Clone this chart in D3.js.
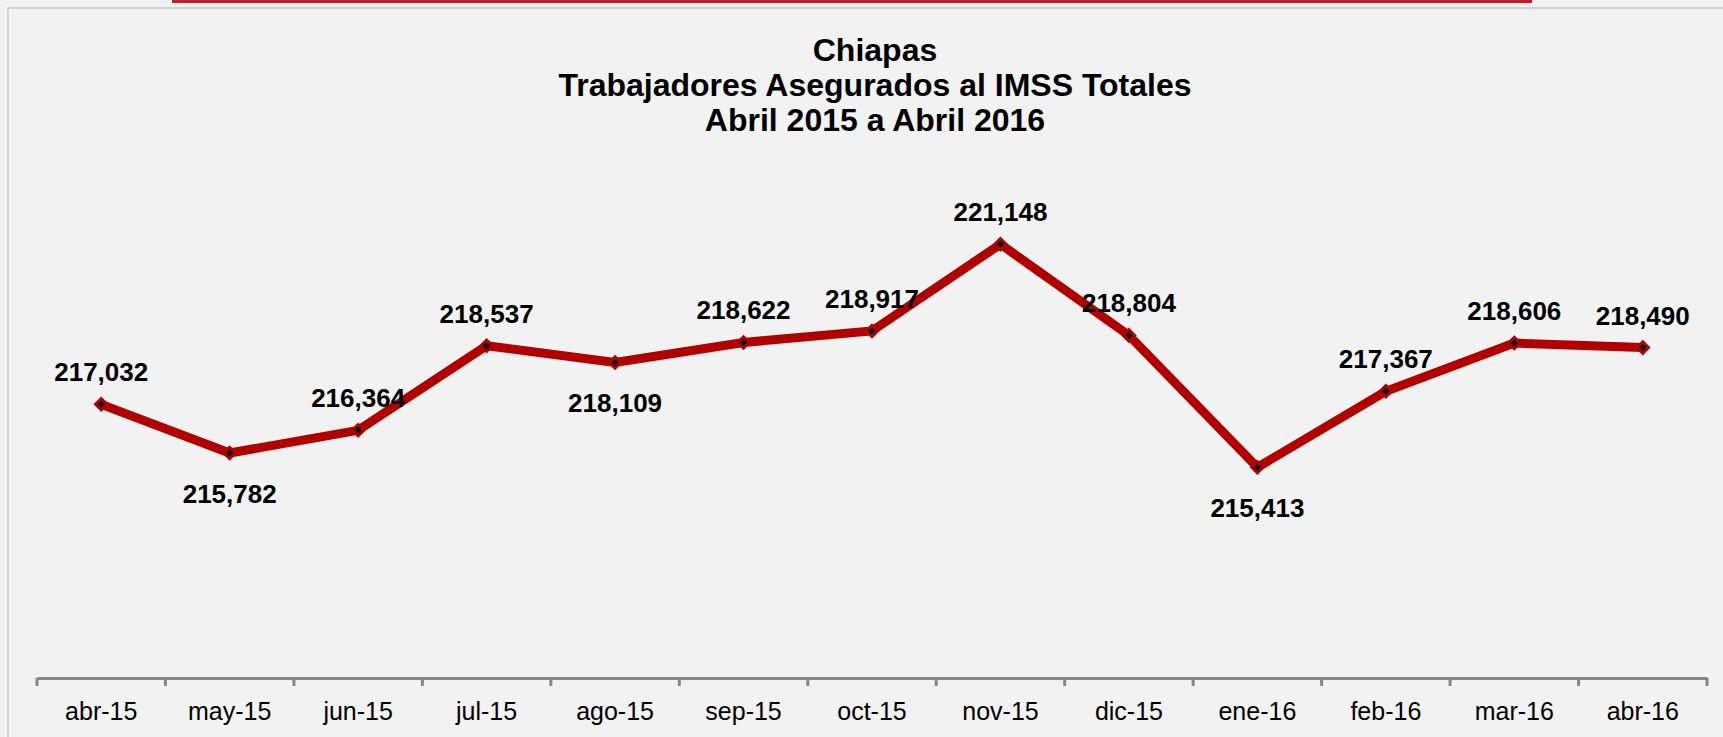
<!DOCTYPE html>
<html>
<head>
<meta charset="utf-8">
<script src="https://cdn.jsdelivr.net/npm/d3@7"></script>
<style>
  html, body { margin: 0; padding: 0; background: #f2f2f2; }
  svg { display: block; font-family: "Liberation Sans", Arial, sans-serif; }
</style>
</head>
<body>
<svg id="chart"></svg>
<script>
// Datos del gráfico
const meses = ["abr-15", "may-15", "jun-15", "jul-15", "ago-15", "sep-15", "oct-15",
               "nov-15", "dic-15", "ene-16", "feb-16", "mar-16", "abr-16"];
const trabajadores = [217032, 215782, 216364, 218537, 218109, 218622, 218917,
                      221148, 218804, 215413, 217367, 218606, 218490];
const titulo = ["Chiapas", "Trabajadores Asegurados al IMSS Totales", "Abril 2015 a Abril 2016"];
// etiquetas que van debajo del punto
const etiquetasAbajo = ["may-15", "ago-15", "ene-16"];

const W = 1723, H = 737;
const margin = { top: 211, right: 16, bottom: 59, left: 37 };
const innerW = W - margin.left - margin.right;
const innerH = H - margin.top - margin.bottom;

const svg = d3.select("#chart").attr("width", W).attr("height", H);

// fondo y marco
svg.append("rect").attr("width", W).attr("height", H).attr("fill", "#f2f2f2");
svg.append("path")
  .attr("d", `M8,${H} V8 H${W}`)
  .attr("fill", "none").attr("stroke", "#d4d4d4").attr("stroke-width", 2);
// línea roja superior
svg.append("rect").attr("x", 172).attr("y", 0).attr("width", 1360).attr("height", 3).attr("fill", "#c0212b");

// título
svg.append("text")
  .attr("x", 875).attr("y", 61)
  .attr("text-anchor", "middle")
  .attr("font-weight", "bold").attr("font-size", 32)
  .selectAll("tspan").data(titulo).enter().append("tspan")
  .attr("x", 875).attr("dy", (d, i) => i === 0 ? 0 : 35)
  .text(d => d);

const g = svg.append("g").attr("transform", `translate(${margin.left},${margin.top})`);

const x = d3.scaleBand().domain(meses).range([0, innerW]);
const y = d3.scaleLinear().domain([210000, 222000]).range([innerH, 0]);

// eje X
const eje = g.append("g").attr("transform", `translate(0,${innerH})`)
  .call(d3.axisBottom(x).tickSize(0).tickPadding(24));
eje.select(".domain").attr("stroke", "#868686").attr("stroke-width", 3);
eje.selectAll("text").attr("font-size", 25).attr("font-family", "Liberation Sans, Arial, sans-serif").attr("fill", "#000");
// marcas entre categorías
const limites = meses.map(m => x(m)).concat([innerW]);
eje.selectAll(".sep").data(limites).enter().append("line")
  .attr("x1", d => d).attr("x2", d => d)
  .attr("y1", 0).attr("y2", 8)
  .attr("stroke", "#868686").attr("stroke-width", 3);

const cx = d => x(d.mes) + x.bandwidth() / 2;
const datos = meses.map((m, i) => ({ mes: m, valor: trabajadores[i] }));

// línea
g.append("path")
  .datum(datos)
  .attr("fill", "none")
  .attr("stroke", "#b00000")
  .attr("stroke-width", 9)
  .attr("stroke-linejoin", "miter")
  .attr("d", d3.line().x(cx).y(d => y(d.valor)));

// marcadores
g.selectAll(".marca").data(datos).enter().append("path")
  .attr("transform", d => `translate(${cx(d)},${y(d.valor)}) rotate(45)`)
  .attr("d", "M-4,-4H4V4H-4Z")
  .attr("fill", "#000")
  .attr("stroke", "#b00000")
  .attr("stroke-width", 3);

// etiquetas de valor
const fmt = d3.format(",");
g.selectAll(".etq").data(datos).enter().append("text")
  .attr("x", cx)
  .attr("y", d => y(d.valor) + (etiquetasAbajo.includes(d.mes) ? 50 : -23))
  .attr("text-anchor", "middle")
  .attr("font-weight", "bold").attr("font-size", 26)
  .text(d => fmt(d.valor));
</script>
</body>
</html>
